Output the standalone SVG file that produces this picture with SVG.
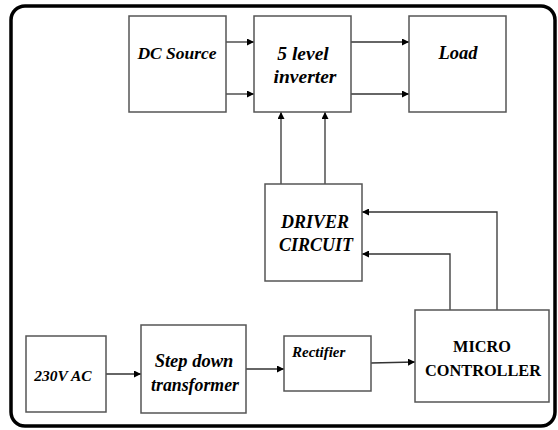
<svg xmlns="http://www.w3.org/2000/svg" width="558" height="430" viewBox="0 0 558 430">
<style>
.box{fill:#fff;stroke:#555;stroke-width:1.5}
.c{fill:none;stroke:#333;stroke-width:1.3;marker-end:url(#ah)}
</style>
<defs>
<marker id="ah" viewBox="0 0 10 10" refX="10" refY="5" markerWidth="7" markerHeight="7" markerUnits="userSpaceOnUse" orient="auto">
<path d="M0,0 L10,5 L0,10 z" fill="#000"/>
</marker>
</defs>
<rect x="0" y="0" width="558" height="430" fill="#fff"/>
<rect x="11" y="6" width="544" height="420" rx="14" ry="14" fill="none" stroke="#000" stroke-width="3.5"/>
<g id="connectors">
<path class="c" d="M226,42 H254"/>
<path class="c" d="M226,94 H254"/>
<path class="c" d="M351,42 H409"/>
<path class="c" d="M351,94 H409"/>
<path class="c" d="M281,184 V112"/>
<path class="c" d="M325,184 V112"/>
<path class="c" d="M497,310 V212 H362"/>
<path class="c" d="M450,310 V254 H362"/>
<path class="c" d="M106,374 H141"/>
<path class="c" d="M246,369 H284"/>
<path class="c" d="M371,363 L415,362"/>
</g>
<g id="dc-source">
<rect class="box" x="129" y="16" width="97" height="96"/>
<text x="177" y="59" text-anchor="middle" font-family="Liberation Serif" font-weight="bold" font-style="italic" font-size="17.5">DC Source</text>
</g>
<g id="inverter">
<rect class="box" x="254" y="16" width="97" height="96"/>
<text x="303" y="60" text-anchor="middle" font-family="Liberation Serif" font-weight="bold" font-style="italic" font-size="19.5">5 level</text>
<text x="305" y="83" text-anchor="middle" font-family="Liberation Serif" font-weight="bold" font-style="italic" font-size="19.5">inverter</text>
</g>
<g id="load">
<rect class="box" x="409" y="16" width="97" height="96"/>
<text x="458" y="59" text-anchor="middle" font-family="Liberation Serif" font-weight="bold" font-style="italic" font-size="18.5">Load</text>
</g>
<g id="driver">
<rect class="box" x="265" y="184" width="97" height="97"/>
<text x="315" y="228" text-anchor="middle" font-family="Liberation Serif" font-weight="bold" font-style="italic" font-size="18">DRIVER</text>
<text x="316" y="251" text-anchor="middle" font-family="Liberation Serif" font-weight="bold" font-style="italic" font-size="18">CIRCUIT</text>
</g>
<g id="micro">
<rect class="box" x="415" y="310" width="134" height="92"/>
<text x="482" y="352" text-anchor="middle" font-family="Liberation Serif" font-weight="bold" font-size="16.3">MICRO</text>
<text x="483" y="376" text-anchor="middle" font-family="Liberation Serif" font-weight="bold" font-size="16.3">CONTROLLER</text>
</g>
<g id="rectifier">
<rect class="box" x="284" y="336" width="87" height="55"/>
<text x="292" y="357" text-anchor="start" font-family="Liberation Serif" font-weight="bold" font-style="italic" font-size="15">Rectifier</text>
</g>
<g id="ac">
<rect class="box" x="26" y="336" width="80" height="76"/>
<text x="63" y="381" text-anchor="middle" font-family="Liberation Serif" font-weight="bold" font-style="italic" font-size="15.5">230V AC</text>
</g>
<g id="transformer">
<rect class="box" x="141" y="325" width="105" height="88"/>
<text x="194" y="367" text-anchor="middle" font-family="Liberation Serif" font-weight="bold" font-style="italic" font-size="18.5">Step down</text>
<text x="195" y="391" text-anchor="middle" font-family="Liberation Serif" font-weight="bold" font-style="italic" font-size="17.8">transformer</text>
</g>
</svg>
